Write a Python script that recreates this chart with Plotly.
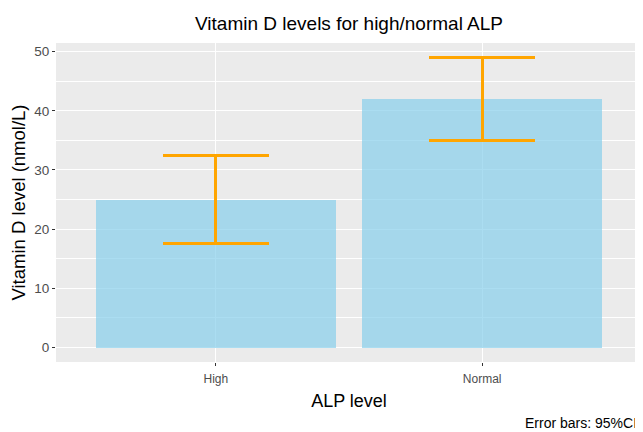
import plotly.graph_objects as go

categories = ["High", "Normal"]
mean_vitd = [25.0, 42.0]
ci_upper = [32.5, 49.0]
ci_lower = [17.5, 34.9]

err_plus = [u - m for u, m in zip(ci_upper, mean_vitd)]
err_minus = [m - l for m, l in zip(mean_vitd, ci_lower)]

FONT = "Liberation Sans, Arial, sans-serif"
# page body has an 8px margin, so the figure is made 8px smaller and offsets reduced
OFF = 8
W, H = 643 - OFF, 432 - OFF

fig = go.Figure()
fig.add_trace(go.Bar(
    x=categories, y=mean_vitd, width=0.9,
    marker=dict(color="rgba(135,206,235,0.7)", line=dict(width=0)),
    error_y=dict(type="data", symmetric=False, array=err_plus, arrayminus=err_minus,
                 color="#FFA500", thickness=3, width=53),
    showlegend=False,
))

fig.update_layout(
    width=W, height=H,
    margin=dict(l=56 - OFF, r=1, t=43 - OFF, b=70, autoexpand=False),
    paper_bgcolor="white", plot_bgcolor="#EBEBEB",
    font=dict(family=FONT, color="#000000"),
    title=dict(text="Vitamin D levels for high/normal ALP", x=(48 + 634) / 2 / W, xanchor="center",
               y=1 - (23 - OFF) / H, yanchor="middle", yref="container",
               font=dict(size=19, color="#000000", family=FONT)),
    bargap=0,
    xaxis=dict(
        range=[-0.6, 1.6], showgrid=True, gridcolor="white", gridwidth=1.2,
        ticks="outside", ticklen=3, tickcolor="#333333", tickwidth=1,
        ticklabelstandoff=3,
        tickfont=dict(size=12, color="#4D4D4D", family=FONT),
        title=dict(text="ALP level", font=dict(size=18, color="#000000", family=FONT), standoff=8),
        zeroline=False, showline=False, automargin=False,
    ),
    yaxis=dict(
        range=[-2.45, 51.45], tickvals=[0, 10, 20, 30, 40, 50],
        showgrid=True, gridcolor="white", gridwidth=1.2,
        minor=dict(tickvals=[5, 15, 25, 35, 45], showgrid=True, gridcolor="white", gridwidth=0.6, ticks=""),
        ticks="outside", ticklen=3, tickcolor="#333333", tickwidth=1,
        tickfont=dict(size=13.5, color="#4D4D4D", family=FONT),
        title=dict(text="Vitamin D level (nmol/L)", font=dict(size=18.5, color="#000000", family=FONT), standoff=6),
        zeroline=False, showline=False, automargin=False,
    ),
    annotations=[dict(
        text="Error bars: 95%CI", xref="paper", yref="paper", x=1, y=0,
        xanchor="right", yanchor="middle", xshift=-3, yshift=-(423 - 362), showarrow=False,
        font=dict(size=14, color="#000000", family=FONT),
    )],
)

fig.write_html("out.html")
